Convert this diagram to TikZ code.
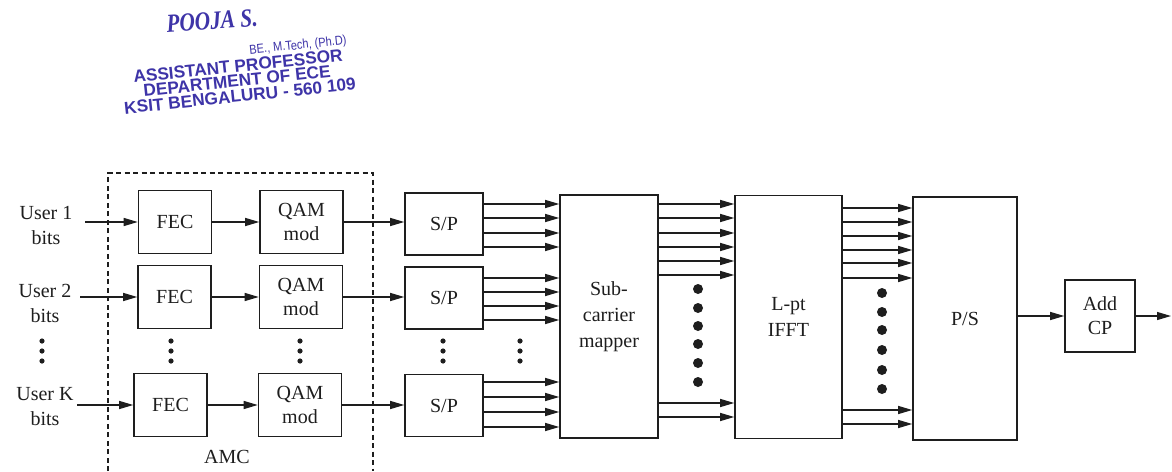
\documentclass[tikz,border=0pt]{standalone}
\usepackage{fontspec}
\setmainfont{Liberation Serif}
\newfontfamily\stampsans{Liberation Sans}
\usetikzlibrary{arrows.meta}
\definecolor{ink}{RGB}{30,30,30}
\definecolor{stampblue}{RGB}{62,52,168}
\begin{document}
\begin{tikzpicture}[x=1pt,y=-1pt,
  blk/.style={draw=ink, line width=1.6pt, align=center, text=ink, inner sep=0pt,
              font=\fontsize{20}{24}\selectfont},
  fecbox/.style={blk, minimum width=73pt, minimum height=63pt},
  qambox/.style={blk, minimum width=83pt, minimum height=63pt},
  spbox/.style={blk, minimum width=78pt, minimum height=62pt},
  tallbox/.style={blk, minimum height=243pt, font=\fontsize{20}{26}\selectfont},
  arr/.style={draw=ink, line width=1.2pt, -{Triangle[length=14pt,width=8pt]}},
  lbl/.style={align=center, text=ink, inner sep=0pt, font=\fontsize{20}{25}\selectfont},
  stamp/.style={text=stampblue, rotate=6, inner sep=0pt},
  stampline/.style={stamp, font=\stampsans\bfseries\fontsize{17.3}{17.3}\selectfont},
  sdot/.style={fill=ink},
]
\useasboundingbox (0,0) rectangle (1172,471);
\fill[white] (0,0) rectangle (1172,471);

% stamp
\node[stamp, rotate=-2, xscale=0.82, font=\fontsize{26}{26}\selectfont\bfseries\itshape] (st1) at (212,21) {POOJA S.};
\node[stamp, xscale=0.85, font=\stampsans\fontsize{13}{13}\selectfont] (st2) at (298,46) {BE., M.Tech, (Ph.D)};
\node[stampline] (st3) at (238,66) {ASSISTANT PROFESSOR};
\node[stampline] (st4) at (237,81) {DEPARTMENT OF ECE};
\node[stampline] (st5) at (240,96) {KSIT BENGALURU - 560 109};

% AMC dashed region
\draw[ink, line width=1.2pt, dash pattern=on 5pt off 3.5pt] (108,471) -- (108,173) -- (373,173) -- (373,471);
\node[lbl] (amc) at (227,457) {AMC};

% input labels
\node[lbl] (u1) at (46,225) {User 1\\bits};
\node[lbl] (u2) at (45,303) {User 2\\bits};
\node[lbl] (uk) at (45,407) {User K\\bits};
\coordinate (in1) at (85,222);
\coordinate (in2) at (80,297);
\coordinate (in3) at (77,405);

% AMC blocks
\node[fecbox] (fec1) at (175,222) {FEC};
\node[fecbox] (fec2) at (174.5,297) {FEC};
\node[fecbox] (fec3) at (170.5,405) {FEC};
\node[qambox] (qam1) at (301.5,222) {QAM\\mod};
\node[qambox] (qam2) at (301,297) {QAM\\mod};
\node[qambox] (qam3) at (300,405) {QAM\\mod};

% S/P blocks
\node[spbox] (sp1) at (444,224) {S/P};
\node[spbox] (sp2) at (444,298) {S/P};
\node[spbox] (sp3) at (444,405.5) {S/P};

% big blocks
\node[tallbox, minimum width=98pt] (map) at (609,316.5) {Sub-\\carrier\\mapper};
\node[tallbox, minimum width=107pt] (ifft) at (788.5,317) {L-pt\\IFFT};
\node[tallbox, minimum width=104pt] (ps) at (965,318.5) {P/S};
\node[blk, minimum width=70pt, minimum height=72pt] (cp) at (1100,316) {Add\\CP};
\coordinate (out) at (1171,316);

% connectors
\draw[arr] (in1) -- (fec1);
\draw[arr] (in2) -- (fec2);
\draw[arr] (in3) -- (fec3);
\draw[arr] (fec1) -- (qam1);
\draw[arr] (fec2) -- (qam2);
\draw[arr] (fec3) -- (qam3);
\draw[arr] (qam1.east) -- (sp1.west |- qam1.east);
\draw[arr] (qam2.east) -- (sp2.west |- qam2.east);
\draw[arr] (qam3.east) -- (sp3.west |- qam3.east);

\foreach \y in {204,218,233,247} \draw[arr] (sp1.east |- 0,\y) -- (map.west |- 0,\y);
\foreach \y in {278,292,306,320} \draw[arr] (sp2.east |- 0,\y) -- (map.west |- 0,\y);
\foreach \y in {382,397,412,427} \draw[arr] (sp3.east |- 0,\y) -- (map.west |- 0,\y);
\foreach \y in {204,218,233,247,261,275,403,417} \draw[arr] (map.east |- 0,\y) -- (ifft.west |- 0,\y);
\foreach \y in {208,222,236,250,263,278,410,424} \draw[arr] (ifft.east |- 0,\y) -- (ps.west |- 0,\y);
\draw[arr] (ps.east |- cp) -- (cp);
\draw[arr] (cp) -- (out);

% ellipsis dots
\foreach \x in {42,171,300,443,520}
  \foreach \y in {341,351,361} \fill[sdot] (\x,\y) circle (2.6pt);
\foreach \y in {289,308,326,344,363,382} \fill[sdot] (698,\y) circle (5pt);
\foreach \y in {293,312,330,350,370,389} \fill[sdot] (882,\y) circle (5pt);
\end{tikzpicture}
\end{document}
